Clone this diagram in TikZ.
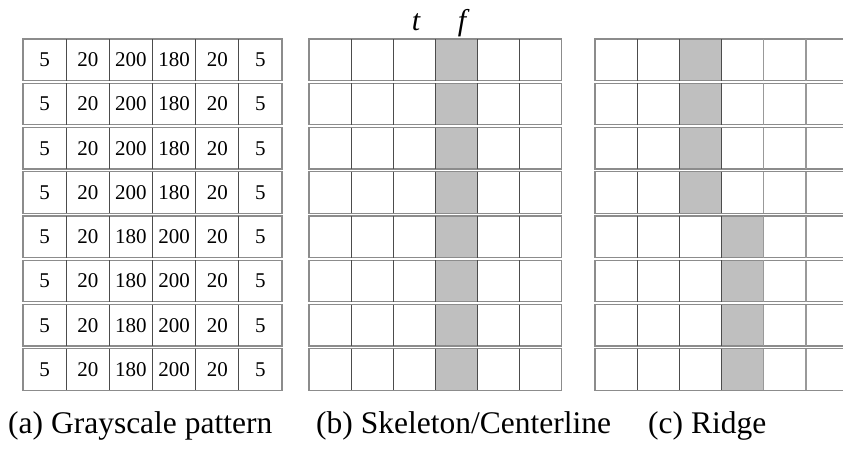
\documentclass[tikz,border=0pt]{standalone}
\usepackage{fontspec}
\setmainfont{Liberation Serif}
\begin{document}
\begin{tikzpicture}[x=1pt,y=-1pt,
  hline/.style={draw=black!45, line width=1.3pt},
  vline/.style={draw=black!70, line width=1.1pt},
  lvline/.style={draw=black!40, line width=1.3pt},
  shadecell/.style={fill=black!25},
  num/.style={inner sep=0pt, font=\fontsize{21}{21}\selectfont},
  captext/.style={anchor=base west, inner sep=0pt, font=\fontsize{31.5}{32}\selectfont},
  lab/.style={anchor=base, inner sep=0pt, font=\fontsize{30}{30}\selectfont\itshape}]
\useasboundingbox (0,0) rectangle (843,451);
\fill[white] (0,0) rectangle (843,451);
\foreach \r in {0,...,7}{
  \pgfmathsetmacro\yt{39+\r*44.25}
  \pgfmathsetmacro\yb{\yt+41.5}
  \pgfmathsetmacro\ym{\yt+20.75}
  \ifnum\r<4 \def\sc{2}\def\vals{5,20,200,180,20,5}\else\def\sc{3}\def\vals{5,20,180,200,20,5}\fi
  % shading
  \fill[shadecell] ({309+3*42.1},\yt) rectangle ({309+4*42.1},\yb);
  \fill[shadecell] ({595+\sc*42.2},\yt) rectangle ({595+(\sc+1)*42.2},\yb);
  % outlines
  \draw[hline] (23,\yt) rectangle (282,\yb);
  \draw[hline] (309,\yt) rectangle (561.6,\yb);
  \draw[hline] (595,\yt) rectangle (848.2,\yb);
  \foreach \c in {1,...,5}{
    \draw[vline] ({23+\c*43.17},\yt) -- ({23+\c*43.17},\yb);
    \draw[vline] ({309+\c*42.1},\yt) -- ({309+\c*42.1},\yb);
  }
  \foreach \c in {1,2,3}
    \draw[vline] ({595+\c*42.2},\yt) -- ({595+\c*42.2},\yb);
  \foreach \c in {4,5}
    \draw[lvline] ({595+\c*42.2},\yt) -- ({595+\c*42.2},\yb);
  \foreach \v [count=\c from 0] in \vals
    \node[num] (a-\r-\c) at ({23+(\c+0.5)*43.17},\ym) {\v};
}
\node[lab] (t) at (416,30) {t};
\node[lab] (f) at (462,30) {f};
\node[captext] (capa) at (8,433) {(a) Grayscale pattern};
\node[captext] (capb) at (316,433) {(b) Skeleton/Centerline};
\node[captext] (capc) at (648,433) {(c) Ridge};
\end{tikzpicture}
\end{document}
